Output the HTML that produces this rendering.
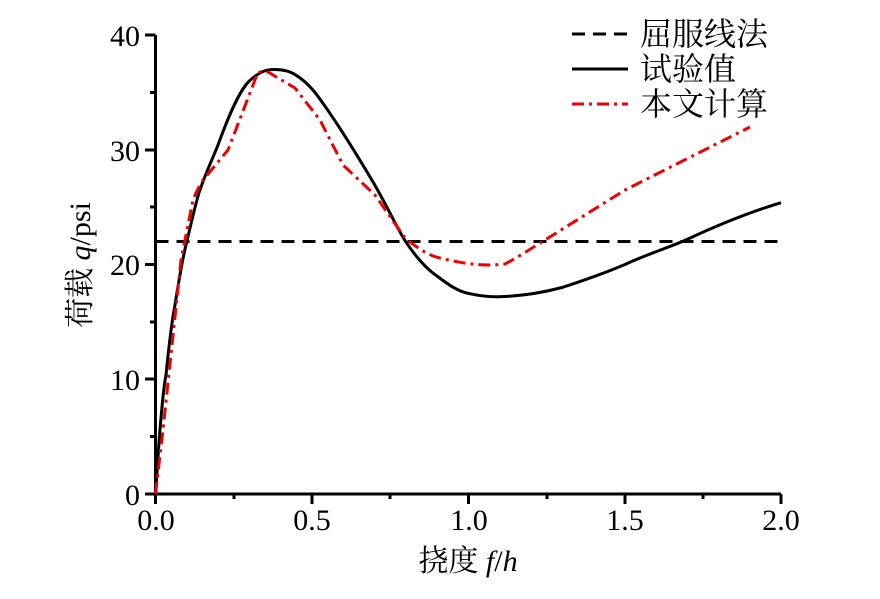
<!DOCTYPE html>
<html><head><style>body{margin:0;background:#fff}svg{display:block}</style></head><body>
<svg width="880" height="599" viewBox="0 0 880 599" xmlns="http://www.w3.org/2000/svg" font-family="Liberation Serif, Noto Serif CJK SC, serif">
<g stroke="#000" stroke-width="3" fill="none">
<line x1="155.5" y1="35" x2="155.5" y2="494"/>
<line x1="155.5" y1="494" x2="781" y2="494"/>
<line x1="145" y1="35" x2="155.5" y2="35"/>
<line x1="145" y1="150" x2="155.5" y2="150"/>
<line x1="145" y1="264.5" x2="155.5" y2="264.5"/>
<line x1="145" y1="379" x2="155.5" y2="379"/>
<line x1="145" y1="494" x2="155.5" y2="494"/>
<line x1="150" y1="92.5" x2="155.5" y2="92.5"/>
<line x1="150" y1="207" x2="155.5" y2="207"/>
<line x1="150" y1="322" x2="155.5" y2="322"/>
<line x1="150" y1="436.5" x2="155.5" y2="436.5"/>
<line x1="155.5" y1="494" x2="155.5" y2="504"/>
<line x1="312" y1="494" x2="312" y2="504"/>
<line x1="468.5" y1="494" x2="468.5" y2="504"/>
<line x1="625" y1="494" x2="625" y2="504"/>
<line x1="781" y1="494" x2="781" y2="504"/>
<line x1="234" y1="494" x2="234" y2="499"/>
<line x1="390" y1="494" x2="390" y2="499"/>
<line x1="547" y1="494" x2="547" y2="499"/>
<line x1="703" y1="494" x2="703" y2="499"/>
</g>
<g font-size="30" fill="#000">
<text x="140" y="46" text-anchor="end">40</text>
<text x="140" y="161" text-anchor="end">30</text>
<text x="140" y="275" text-anchor="end">20</text>
<text x="140" y="390" text-anchor="end">10</text>
<text x="140" y="505" text-anchor="end">0</text>
<text x="156" y="530" text-anchor="middle">0.0</text>
<text x="312" y="530" text-anchor="middle">0.5</text>
<text x="469" y="530" text-anchor="middle">1.0</text>
<text x="625" y="530" text-anchor="middle">1.5</text>
<text x="781" y="530" text-anchor="middle">2.0</text>
<text x="468" y="571" text-anchor="middle">挠度 <tspan font-style="italic">f</tspan>/<tspan font-style="italic">h</tspan></text>
<text transform="translate(90,265) rotate(-90)" text-anchor="middle">荷载 <tspan font-style="italic">q</tspan>/psi</text>
</g>
<g font-size="32" fill="#000">
<text x="640" y="45">屈服线法</text>
<text x="640" y="80">试验值</text>
<text x="640" y="115">本文计算</text>
</g>
<line x1="572" y1="34" x2="628" y2="34" stroke="#000" stroke-width="3" stroke-dasharray="13,8"/>
<line x1="572" y1="69" x2="628" y2="69" stroke="#000" stroke-width="3"/>
<line x1="572" y1="104" x2="628" y2="104" stroke="#e00" stroke-width="3" stroke-dasharray="12,5,3,5"/>
<line x1="155.5" y1="241.5" x2="781" y2="241.5" stroke="#000" stroke-width="3" stroke-dasharray="13,8"/>
<path d="M155.5,494 C158,460 159,440 160,430 C162,405 164,385 166,375 C169,345 172,320 175,305 C179,280 182,260 186.8,241.7 C193,215 198,195 200,190 C206,172 210,165 218,145 C230,112 240,90 249.3,81 C258,73 265,69.6 271.2,69.6 C282,69 290,71 296.2,75.3 C310,84 318,96 327.5,109.8 C345,135 360,160 374.4,184.3 C388,208 397,228 405.7,241.7 C418,260 428,270 437,276 C450,286 458,291 468,293.3 C480,296 490,297 499.5,296.7 C525,296 545,292 562,287.5 C585,280 605,273 624.6,264.6 C650,253 668,248 687.2,239.4 C720,224 750,212 781,202.7" fill="none" stroke="#000" stroke-width="3"/>
<path d="M155.5,494 L163,430 L172,345 L181,260 L193,200 C197,190 200,185 203,180 L228,150 L258,72 L268,72 L295,88 L320,120 L343,165 L375,195 L405,238 C420,250 430,256 440,258 C460,263 475,265 490,265 C498,265 502,264 505,264 C520,256 532,248 545,240 L625,190 L750,127" fill="none" stroke="#e00" stroke-width="3" stroke-dasharray="12,5,3,5"/>
</svg>
</body></html>
